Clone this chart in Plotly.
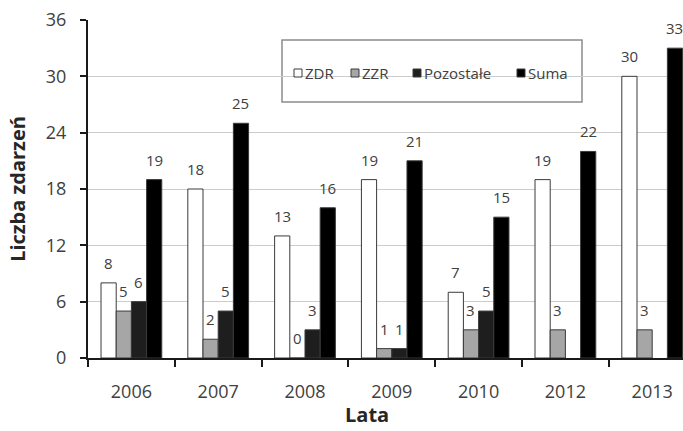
import plotly.graph_objects as go

# Liczba zdarzeń w kolejnych latach
years = ["2006", "2007", "2008", "2009", "2010", "2012", "2013"]
zdr = [8, 18, 13, 19, 7, 19, 30]
zzr = [5, 2, 0, 1, 3, 3, 3]
pozostale = [6, 5, 3, 1, 5, None, None]
suma = [19, 25, 16, 21, 15, 22, 33]

y_ticks = [0, 6, 12, 18, 24, 30, 36]

series = [
    ("ZDR", zdr, "#ffffff"),
    ("ZZR", zzr, "#a6a6a6"),
    ("Pozostałe", pozostale, "#1e1e1e"),
    ("Suma", suma, "#000000"),
]

FONT = "Open Sans"
TXT = "#404040"
OUTLINE = "#3a3a3a"

W, H = 683, 431
M_L, M_R, M_T, M_B = 88, 0, 20, 73
PLOT_W, PLOT_H = W - M_L - M_R, H - M_T - M_B
X_RANGE = [-0.5, 6.355]
BARGAP = 0.3


def px_x(p):
    return (p - M_L) / PLOT_W


def px_y(p):
    return (H - M_B - p) / PLOT_H


fig = go.Figure()
for name, vals, color in series:
    fig.add_trace(go.Bar(
        name=name, x=years, y=vals, showlegend=False,
        marker=dict(color=color, line=dict(color=OUTLINE, width=1)),
    ))

# value labels above each bar, shifted to the bar's slot inside its group
cat_px = PLOT_W / (X_RANGE[1] - X_RANGE[0])
bar_px = cat_px * (1 - BARGAP) / len(series)
annotations = []
for i, (name, vals, color) in enumerate(series):
    for k, v in enumerate(vals):
        if v is None:
            continue
        annotations.append(dict(
            x=k, y=v, xref="x", yref="y", text=str(v), showarrow=False,
            xshift=(i - (len(series) - 1) / 2) * bar_px, yshift=8,
            yanchor="bottom", font=dict(family=FONT, size=15, color=TXT),
        ))

# legend box with compact entries
shapes = [dict(
    type="rect", xref="paper", yref="paper",
    x0=px_x(282), x1=px_x(582), y0=px_y(102), y1=px_y(40),
    line=dict(color="#8c8c8c", width=1.5), fillcolor="white", layer="between",
)]
legend_x = [294, 351, 413, 517]
legend_y = 73
for (name, vals, color), lx in zip(series, legend_x):
    shapes.append(dict(
        type="rect", xref="paper", yref="paper",
        x0=px_x(lx), x1=px_x(lx + 8), y0=px_y(legend_y + 4), y1=px_y(legend_y - 4),
        line=dict(color=OUTLINE, width=1), fillcolor=color, layer="above",
    ))
    annotations.append(dict(
        x=px_x(lx + 9), y=px_y(legend_y), xref="paper", yref="paper",
        text=name, showarrow=False, xanchor="left", yanchor="middle",
        font=dict(family=FONT, size=15, color=TXT),
    ))

# axis title under the year labels
annotations.append(dict(
    x=px_x(367), y=px_y(430), xref="paper", yref="paper",
    text="<b>Lata</b>", showarrow=False, xanchor="center", yanchor="bottom",
    font=dict(family=FONT, size=20, color="#262626"),
))

fig.update_layout(
    width=W, height=H,
    margin=dict(l=M_L, r=M_R, t=M_T, b=M_B, pad=0),
    paper_bgcolor="white", plot_bgcolor="white",
    barmode="group", bargap=BARGAP, bargroupgap=0,
    font=dict(family=FONT, color=TXT),
    annotations=annotations,
    shapes=shapes,
    showlegend=False,
    xaxis=dict(
        range=X_RANGE, type="category",
        showline=True, linecolor="#1a1a1a", linewidth=2,
        ticks="outside", tickson="boundaries", ticklen=7, tickcolor="#1a1a1a", tickwidth=1.5,
        ticklabelstandoff=16,
        tickfont=dict(family=FONT, size=18, color=TXT),
        showgrid=False,
    ),
    yaxis=dict(
        range=[0, 36], tickvals=y_ticks,
        showline=True, linecolor="#1a1a1a", linewidth=2,
        ticks="outside", ticklen=6, tickcolor="#1a1a1a", tickwidth=1.5,
        ticklabelstandoff=10,
        tickfont=dict(family=FONT, size=18, color=TXT),
        showgrid=True, gridcolor="#cccccc", gridwidth=1,
        zeroline=False,
        title=dict(text="<b>Liczba zdarzeń</b>", font=dict(family=FONT, size=20, color="#262626")),
    ),
)

fig.write_html("out.html")
